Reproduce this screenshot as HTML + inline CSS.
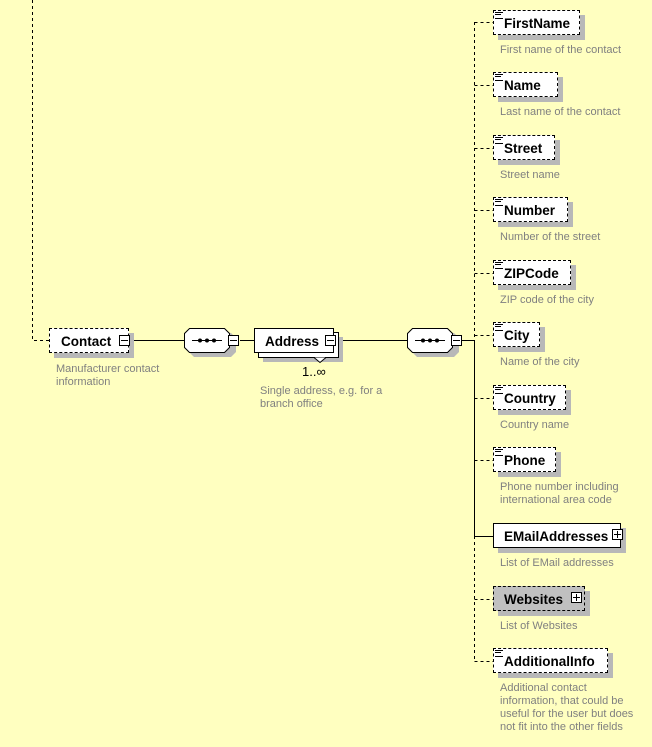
<!DOCTYPE html>
<html><head><style>
body{margin:0;background:#ffffc0;width:652px;height:747px;overflow:hidden;position:relative;font-family:"Liberation Sans",sans-serif}
.b{position:absolute;height:25px;background:#fff;border:1px dashed #000;font-weight:bold;font-size:13.5px;line-height:25px;padding-left:10px;box-shadow:5px 5px 0 #b8b8b8;box-sizing:border-box}
.s{border-style:solid}
.d{position:absolute;font-size:11px;color:#808080;line-height:13px}
.pm{position:absolute;width:11px;height:11px;border:1px solid #000;background:#fff;box-sizing:border-box}
.pm:before{content:"";position:absolute;left:1px;right:1px;top:4px;height:1px;background:#000}
.pl:after{content:"";position:absolute;top:1px;bottom:1px;left:4px;width:1px;background:#000}
.ic{position:absolute;left:1px;top:1px;width:8px;height:5px;border-top:1px solid #000;border-bottom:1px solid #000}
.ic:after{content:"";position:absolute;left:0;width:6px;top:1px;height:1px;background:#000}
</style></head><body>
<svg width="652" height="747" style="position:absolute;left:0;top:0">
<g stroke="#000" fill="none">
<path d="M32.5 0V340.5H49" stroke-dasharray="3,3"/>
<path d="M132 340.5H184M240 340.5H254M337 340.5H407M462 340.5H474.5" />
<path d="M474.5 22V340" stroke-dasharray="3,3"/>
<path d="M474.5 340V536"/>
<path d="M474.5 536V661" stroke-dasharray="3,3"/>
<g stroke-dasharray="3,3">
<path d="M474.5 22.5H493M474.5 85.5H493M474.5 148.5H493M474.5 210.5H493M474.5 273.5H493M474.5 335.5H493M474.5 398.5H493M474.5 460.5H493M474.5 599.5H493M474.5 661.5H493"/>
</g>
<path d="M474.5 536.5H493"/>
</g>
<polygon points="194,333 231,333 236,338 236,352 231,357 194,357 189,352 189,338" fill="#b8b8b8"/>
<polygon points="189.5,328.5 224.5,328.5 229.5,333.5 229.5,347.5 224.5,352.5 189.5,352.5 184.5,347.5 184.5,333.5" fill="#fff" stroke="#000"/>
<path d="M192 340.5H222" stroke="#000"/><circle cx="200" cy="340.5" r="2"/><circle cx="207" cy="340.5" r="2"/><circle cx="214" cy="340.5" r="2"/>
<polygon points="417,333 454,333 459,338 459,352 454,357 417,357 412,352 412,338" fill="#b8b8b8"/>
<polygon points="412.5,328.5 447.5,328.5 452.5,333.5 452.5,347.5 447.5,352.5 412.5,352.5 407.5,347.5 407.5,333.5" fill="#fff" stroke="#000"/>
<path d="M415 340.5H445" stroke="#000"/><circle cx="423" cy="340.5" r="2"/><circle cx="430" cy="340.5" r="2"/><circle cx="437" cy="340.5" r="2"/>
<rect x="263" y="337" width="80" height="25" fill="#b8b8b8"/>
<rect x="258.5" y="332.5" width="80" height="25" fill="#fff" stroke="#000"/>
<path d="M314 357.5l6 5 6-5" fill="#fff" stroke="#000"/>
</svg>
<div class="b" style="left:49px;top:328px;width:80px;padding-left:11px">Contact</div>
<div class="pm" style="left:119px;top:335px"></div>
<div class="pm" style="left:228px;top:335px"></div>
<div class="b s" style="left:254px;top:328px;width:80px;box-shadow:none;padding-left:10px">Address</div>
<div class="pm" style="left:325px;top:335px"></div>
<div style="position:absolute;left:302px;top:364px;font-size:13px;line-height:15px">1..∞</div>
<div class="pm" style="left:451px;top:335px"></div>
<div class="d" style="left:56px;top:363px">Manufacturer contact<br>information</div>
<div class="d" style="left:260px;top:385px">Single address, e.g. for a<br>branch office</div>

<div class="b" style="left:493px;top:10px;width:87px"><span class="ic"></span>FirstName</div>
<div class="d" style="left:500px;top:44px">First name of the contact</div>
<div class="b" style="left:493px;top:72px;width:65px"><span class="ic"></span>Name</div>
<div class="d" style="left:500px;top:106px">Last name of the contact</div>
<div class="b" style="left:493px;top:135px;width:62px"><span class="ic"></span>Street</div>
<div class="d" style="left:500px;top:169px">Street name</div>
<div class="b" style="left:493px;top:197px;width:75px"><span class="ic"></span>Number</div>
<div class="d" style="left:500px;top:231px">Number of the street</div>
<div class="b" style="left:493px;top:260px;width:78px"><span class="ic"></span>ZIPCode</div>
<div class="d" style="left:500px;top:294px">ZIP code of the city</div>
<div class="b" style="left:493px;top:322px;width:47px"><span class="ic"></span>City</div>
<div class="d" style="left:500px;top:356px">Name of the city</div>
<div class="b" style="left:493px;top:385px;width:73px"><span class="ic"></span>Country</div>
<div class="d" style="left:500px;top:419px">Country name</div>
<div class="b" style="left:493px;top:447px;width:63px"><span class="ic"></span>Phone</div>
<div class="d" style="left:500px;top:481px">Phone number including<br>international area code</div>
<div class="b s" style="left:493px;top:523px;width:128px">EMailAddresses</div>
<div class="pm pl" style="left:612px;top:529px"></div>
<div class="d" style="left:500px;top:557px">List of EMail addresses</div>
<div class="b" style="left:493px;top:586px;width:92px;background:#c0c0c0">Websites</div>
<div class="pm pl" style="left:571px;top:592px"></div>
<div class="d" style="left:500px;top:620px">List of Websites</div>
<div class="b" style="left:493px;top:648px;width:115px"><span class="ic"></span>AdditionalInfo</div>
<div class="d" style="left:500px;top:682px">Additional contact<br>information, that could be<br>useful for the user but does<br>not fit into the other fields</div>
</body></html>
